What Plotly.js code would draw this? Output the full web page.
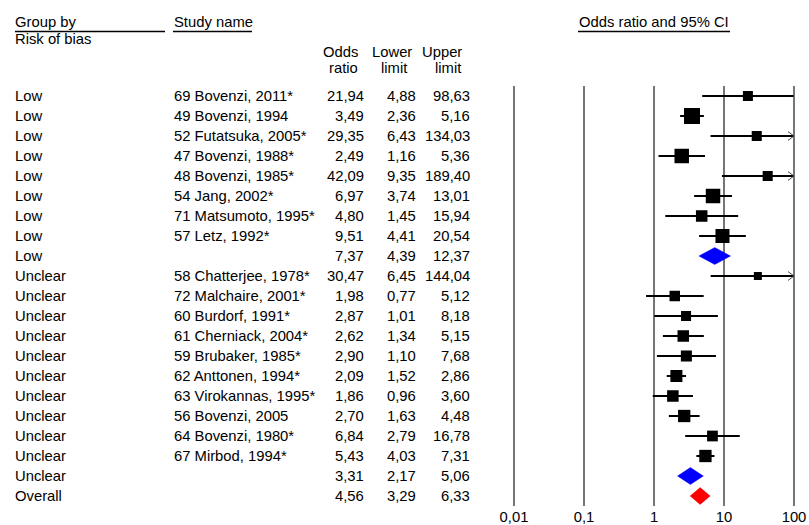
<!DOCTYPE html>
<html><head><meta charset="utf-8">
<script src="https://cdn.plot.ly/plotly-3.0.1.min.js"></script>
<style>html,body{margin:0;padding:0;background:#fff}</style>
</head><body><div id="chart" style="width:809px;height:525px"></div>
<script>
// ---------- DATA ----------
const groups = ['Low','Low','Low','Low','Low','Low','Low','Low','Low',
  'Unclear','Unclear','Unclear','Unclear','Unclear','Unclear','Unclear','Unclear','Unclear','Unclear','Unclear',
  'Overall'];
const studies = ['69 Bovenzi, 2011*','49 Bovenzi, 1994','52 Futatsuka, 2005*','47 Bovenzi, 1988*',
  '48 Bovenzi, 1985*','54 Jang, 2002*','71 Matsumoto, 1995*','57 Letz, 1992*','',
  '58 Chatterjee, 1978*','72 Malchaire, 2001*','60 Burdorf, 1991*','61 Cherniack, 2004*',
  '59 Brubaker, 1985*','62 Anttonen, 1994*','63 Virokannas, 1995*','56 Bovenzi, 2005',
  '64 Bovenzi, 1980*','67 Mirbod, 1994*','',''];
const rowType = ['study','study','study','study','study','study','study','study','subgroup',
  'study','study','study','study','study','study','study','study','study','study','subgroup','overall'];
const oddsRatio = [21.94,3.49,29.35,2.49,42.09,6.97,4.80,9.51,7.37,
  30.47,1.98,2.87,2.62,2.90,2.09,1.86,2.70,6.84,5.43,3.31,4.56];
const lowerLimit = [4.88,2.36,6.43,1.16,9.35,3.74,1.45,4.41,4.39,
  6.45,0.77,1.01,1.34,1.10,1.52,0.96,1.63,2.79,4.03,2.17,3.29];
const upperLimit = [98.63,5.16,134.03,5.36,189.40,13.01,15.94,20.54,12.37,
  144.04,5.12,8.18,5.15,7.68,2.86,3.60,4.48,16.78,7.31,5.06,6.33];
// relative study weights
const weights = [6.3,16.0,6.3,13.1,6.3,13.1,8.3,12.3,null,
  4.0,6.9,6.3,8.3,7.6,9.0,8.3,9.5,7.2,9.5,null,null];
const tickVals = [0.01,0.1,1,10,100];
const tickText = ['0,01','0,1','1','10','100'];

// ---------- LAYOUT HELPERS ----------
const W=809, H=525, plotTop=86, plotBottom=506;
const FONT='"Liberation Sans", Arial, Helvetica, sans-serif';
const FS=14.8;
const px2x = p => p/W;
const px2y = p => (plotBottom-p)/(plotBottom-plotTop);
const fmt = v => v.toFixed(2).replace('.', ',');
const n = oddsRatio.length;
const xMin = tickVals[0], xMax = tickVals[tickVals.length-1];
const decPx = 70, padPx = 4, axLeft = 514;
const lmin = Math.log10(xMin), lmax = Math.log10(xMax);
const domain = [(axLeft-padPx)/W, (axLeft+(lmax-lmin)*decPx+padPx)/W];
const xRange = [lmin-padPx/decPx, lmax+padPx/decPx];

const traces = [];
// CI lines
const ciX=[], ciY=[];
for(let i=0;i<n;i++){ if(rowType[i]!=='study') continue;
  ciX.push(lowerLimit[i], Math.min(upperLimit[i], xMax), null); ciY.push(i,i,null); }
traces.push({type:'scatter',mode:'lines',x:ciX,y:ciY,line:{color:'#000',width:2},hoverinfo:'skip',showlegend:false});
// arrows for truncated CIs
const arX=[], arY=[];
const back = Math.pow(10,-6/decPx);
for(let i=0;i<n;i++){ if(rowType[i]==='study' && upperLimit[i]>xMax){
  arX.push(xMax*back, xMax, xMax*back, null); arY.push(i-0.22, i, i+0.22, null);} }
traces.push({type:'scatter',mode:'lines',x:arX,y:arY,line:{color:'#444',width:1},hoverinfo:'skip',showlegend:false});
// squares
const sqX=[], sqY=[], sqS=[];
for(let i=0;i<n;i++){ if(rowType[i]!=='study') continue;
  sqX.push(oddsRatio[i]); sqY.push(i); sqS.push(4*Math.sqrt(weights[i])); }
traces.push({type:'scatter',mode:'markers',x:sqX,y:sqY,
  marker:{symbol:'square',size:sqS,color:'#000',opacity:1,line:{width:0}},hoverinfo:'skip',showlegend:false});
// diamonds
for(let i=0;i<n;i++){ if(rowType[i]==='study') continue;
  const c = rowType[i]==='overall' ? '#FF0000' : '#0000FF';
  traces.push({type:'scatter',mode:'lines',fill:'toself',fillcolor:c,
    x:[lowerLimit[i],oddsRatio[i],upperLimit[i],oddsRatio[i],lowerLimit[i]],
    y:[i,i-0.42,i,i+0.42,i],line:{color:c,width:0.5},hoverinfo:'skip',showlegend:false});
}

// ---------- ANNOTATIONS ----------
const ann = [];
function txt(text, xpx, ypx, anchor, yref){
  const a = {text:text, x:px2x(xpx), xref:'paper', xanchor:anchor, showarrow:false,
    borderpad:0, font:{family:FONT,size:FS,color:'#000'}, yanchor:'middle'};
  if(yref==='y'){ a.y=ypx; a.yref='y'; } else { a.y=px2y(ypx); a.yref='paper'; }
  ann.push(a);
}
for(let i=0;i<n;i++){
  txt(groups[i], 14, i, 'left', 'y');
  if(studies[i]) txt(studies[i], 173, i, 'left', 'y');
  txt(fmt(oddsRatio[i]), 365, i, 'right', 'y');
  txt(fmt(lowerLimit[i]), 417, i, 'right', 'y');
  txt(fmt(upperLimit[i]), 471, i, 'right', 'y');
}
txt('Group by', 14, 22, 'left');
txt('Risk of bias', 14, 39.5, 'left');
txt('Study name', 173, 22, 'left');
txt('Odds', 359, 52, 'right');
txt('ratio', 359, 68.5, 'right');
txt('Lower', 392, 52, 'center');
txt('limit', 394, 68.5, 'center');
txt('Upper', 442, 52, 'center');
txt('limit', 448, 68.5, 'center');
ann.push({text:'Odds ratio and 95% CI', x:Math.log10(1), xref:'x', y:px2y(22), yref:'paper', xanchor:'center', yanchor:'middle',
  showarrow:false, borderpad:0, font:{family:FONT,size:FS,color:'#000'}});

// ---------- SHAPES ----------
const shapes = [];
tickVals.forEach(v => shapes.push({type:'line',xref:'x',yref:'paper',x0:v,x1:v,y0:0,y1:1,
  line:{color:'#1a1a1a',width:1.2},layer:'below'}));
[[15,165],[173,252],[578,730]].forEach(s => shapes.push({type:'line',xref:'paper',yref:'paper',
  x0:px2x(s[0]),x1:px2x(s[1]),y0:px2y(31.5),y1:px2y(31.5),line:{color:'#000',width:1.3}}));

const layout = {
  width:W, height:H, autosize:false,
  margin:{l:0,r:0,t:plotTop,b:H-plotBottom,pad:0},
  paper_bgcolor:'#fff', plot_bgcolor:'#fff',
  font:{family:FONT,size:FS,color:'#000'},
  showlegend:false,
  xaxis:{type:'log', range:xRange, domain:domain, tickvals:tickVals, ticktext:tickText,
    showgrid:false, zeroline:false, showline:false, ticks:'', automargin:false,
    tickfont:{family:FONT,size:FS,color:'#000'}, fixedrange:true},
  yaxis:{range:[n-0.5,-0.5], showgrid:false, zeroline:false, showline:false,
    showticklabels:false, ticks:'', automargin:false, fixedrange:true},
  shapes:shapes, annotations:ann
};
Plotly.newPlot('chart', traces, layout, {displayModeBar:false, staticPlot:true});
</script></body></html>
